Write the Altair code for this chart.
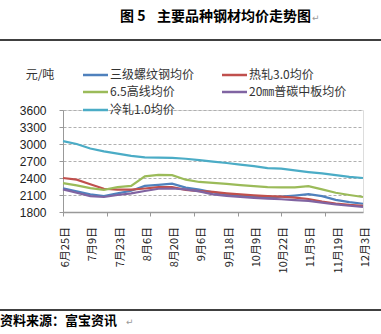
import altair as alt
import pandas as pd

# ---- data ----
day_index = list(range(0, 111, 5))  # working-day index, 6/25 = 0
series_names = ["三级螺纹钢均价", "热轧3.0均价", "6.5高线均价", "20㎜普碳中板均价", "冷轧1.0均价"]
rebar = [2220, 2165, 2110, 2080, 2130, 2175, 2260, 2280, 2300, 2230, 2195, 2145,
         2110, 2090, 2075, 2055, 2070, 2090, 2115, 2080, 2015, 1975, 1945]
hot_rolled = [2400, 2370, 2290, 2210, 2195, 2195, 2215, 2240, 2240, 2190, 2170, 2155,
              2130, 2110, 2095, 2080, 2070, 2055, 2030, 1985, 1950, 1925, 1910]
wire_rod = [2310, 2270, 2220, 2190, 2240, 2260, 2430, 2455, 2450, 2370, 2330, 2315,
            2295, 2275, 2255, 2240, 2235, 2235, 2255, 2200, 2140, 2100, 2065]
plate = [2200, 2140, 2080, 2065, 2100, 2130, 2170, 2210, 2215, 2200, 2165, 2110,
         2085, 2065, 2050, 2035, 2025, 2010, 1995, 1965, 1935, 1910, 1890]
cold_rolled = [3050, 3000, 2920, 2870, 2830, 2790, 2765, 2760, 2755, 2740, 2715, 2690,
               2665, 2635, 2610, 2575, 2565, 2535, 2505, 2480, 2450, 2420, 2400]
series_values = [rebar, hot_rolled, wire_rod, plate, cold_rolled]
colors = ["#4F81BD", "#C0504D", "#9BBB59", "#8064A2", "#4BACC6"]

label_index = list(range(0, 111, 10))
date_labels = ["6月25日", "7月9日", "7月23日", "8月6日", "8月20日", "9月6日", "9月18日",
               "10月9日", "10月22日", "11月5日", "11月19日", "12月3日"]
y_ticks = [1800, 2100, 2400, 2700, 3000, 3300, 3600]

title_fig = "图 5"
title_text = "主要品种钢材均价走势图"
unit_text = "元/吨"
source_text = "资料来源：富宝资讯"

rows = []
for name, vals in zip(series_names, series_values):
    for i, v in zip(day_index, vals):
        rows.append({"i": i, "series": name, "value": v})
df = pd.DataFrame(rows)
df_labels = pd.DataFrame({"i": label_index, "lab": date_labels})

CJK = "Noto Sans CJK SC"
W, H = 300, 102
xscale = alt.Scale(domain=[0, 110], nice=False, zero=False)

lines = alt.Chart(df).mark_line(strokeWidth=2.2).encode(
    x=alt.X("i:Q", scale=xscale,
            axis=alt.Axis(values=list(range(0, 111, 4)), labels=False, title=None,
                          grid=False, domainColor="#999999", tickColor="#999999",
                          tickSize=4, domainWidth=1.5)),
    y=alt.Y("value:Q", scale=alt.Scale(domain=[1800, 3600], nice=False, zero=False),
            axis=alt.Axis(values=y_ticks, format="d", title=None, grid=True, gridDash=[3, 2],
                          gridColor="#B0B0B0", domainColor="#999999", tickColor="#999999",
                          tickSize=4, labelFont="Liberation Sans", labelFontSize=12,
                          labelColor="#222222", labelPadding=13)),
    color=alt.Color("series:N", sort=series_names,
                    scale=alt.Scale(domain=series_names, range=colors), legend=None),
)

xlabels = alt.Chart(df_labels).mark_text(angle=270, align="right", baseline="middle", dy=3,
                                         font=CJK, fontSize=11, color="#222222").encode(
    x=alt.X("i:Q", scale=xscale), y=alt.value(117), text="lab:N")

def txt(t, x, y, size, align="center", weight="normal", color="#000000", font=CJK):
    return alt.Chart(pd.DataFrame({"t": [t]})).mark_text(
        align=align, baseline="middle", font=font, fontSize=size, fontWeight=weight,
        color=color).encode(x=alt.value(x), y=alt.value(y), text="t:N")

def hrule(x1, x2, y, color, width):
    return alt.Chart(pd.DataFrame({"a": [0]})).mark_rule(color=color, strokeWidth=width).encode(
        x=alt.value(x1), x2=alt.value(x2), y=alt.value(y))

# manual legend (two columns, row-major like the reference)
legend_pos = [(20, -35), (159, -35), (20, -18), (159, -18), (20, 0)]
legend_layers = []
for name, col, (lx, ly) in zip(series_names, colors, legend_pos):
    legend_layers.append(hrule(lx, lx + 25, ly, col, 2.5))
    legend_layers.append(txt(name, lx + 27, ly, 12, align="left", color="#333333"))

texts = [
    txt(title_fig, 57, -93, 14, align="left", weight="bold"),
    txt(title_text, 94, -93, 14, align="left", weight="bold"),
    txt("↵", 249, -92, 9, align="left", color="#999999", font="DejaVu Sans"),
    txt(unit_text, -23, -35, 12, color="#333333"),
    txt(source_text, -63, 211, 13, align="left", weight="bold"),
    txt("↵", 63, 212, 9, align="left", color="#999999", font="DejaVu Sans"),
    hrule(-63, 318, -70, "#000000", 1.5),
    hrule(-63, 318, 200, "#000000", 1.5),
]

chart = alt.layer(lines, xlabels, *legend_layers, *texts).properties(
    width=W, height=H,
    autosize=alt.AutoSizeParams(type="none"),
    padding={"left": 63, "top": 110, "right": 18, "bottom": 122},
).configure_view(stroke=None).configure(background="#FFFFFF")

chart.save("out.html", embed_options={"renderer": "svg", "actions": False})
